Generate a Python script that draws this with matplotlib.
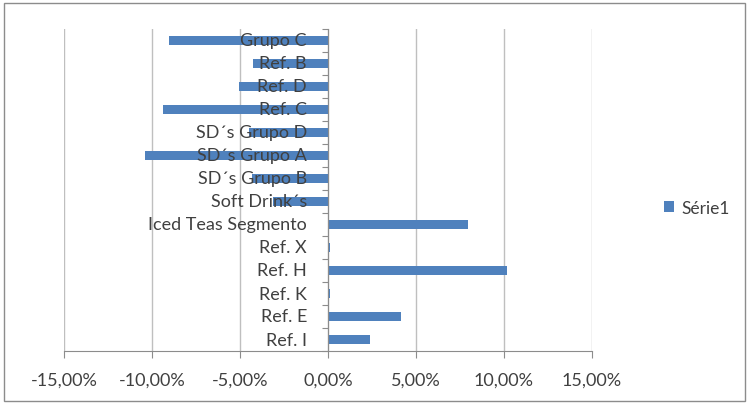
import matplotlib
matplotlib.use('Agg')
import matplotlib.pyplot as plt
from matplotlib.patches import Rectangle
import numpy as np

# categories from bottom to top, values in %
categories = ['Ref. I', 'Ref. E', 'Ref. K', 'Ref. H', 'Ref. X',
              'Iced Teas Segmento', 'Soft Drink´s', 'SD´s Grupo B',
              'SD´s Grupo A', 'SD´s Grupo D', 'Ref. C', 'Ref. D',
              'Ref. B', 'Grupo C']
values = [2.36, 4.15, 0.1, 10.17, 0.1,
          7.95, -3.1, -4.3,
          -10.38, -4.5, -9.38, -5.04,
          -4.26, -9.06]
xticks = [-15, -10, -5, 0, 5, 10, 15]
xtick_labels = ['-15,00%', '-10,00%', '-5,00%', '0,00%', '5,00%', '10,00%', '15,00%']

plt.rcParams['font.family'] = ['Lato', 'DejaVu Sans']
txt_color = '#404040'

fig = plt.figure(figsize=(7.49, 4.06), dpi=100)
ax = fig.add_axes([64 / 749, 1 - 352 / 406, (592 - 64) / 749, (352 - 30) / 406])

pos = list(range(len(categories)))
ax.barh(pos, values, height=0.36, color='#4F81BD', label='Série1', zorder=2)

ax.set_xlim(-15, 15)
ax.set_ylim(-0.5, len(categories) - 0.5)
ax.set_xticks(xticks)
ax.set_xticklabels(xtick_labels, fontsize=13, color=txt_color)
ax.set_yticks(np.arange(len(categories) + 1) - 0.5)
ax.set_yticklabels([])
ax.grid(axis='x', color='#bfbfbf', linewidth=1, zorder=0)
ax.set_axisbelow(True)

# category labels sit left of the zero axis, drawn over the bars
for p, name in zip(pos, categories):
    ax.text(-1.2, p, name, ha='right', va='center', fontsize=13,
            color=txt_color, zorder=4)

for s in ['top', 'right']:
    ax.spines[s].set_visible(False)
ax.spines['left'].set_position(('data', 0))
ax.spines['left'].set_color('#8c8c8c')
ax.spines['bottom'].set_color('#8c8c8c')
ax.tick_params(axis='y', length=4, color='#8c8c8c')
ax.tick_params(axis='x', length=5, color='#8c8c8c', pad=10)

ax.legend(loc='center left', bbox_to_anchor=(648 / 749, 1 - 209 / 406),
          bbox_transform=fig.transFigure, frameon=False, fontsize=12.5,
          handlelength=0.6, handleheight=0.6, handletextpad=0.4,
          labelcolor=txt_color)

fig.patches.append(Rectangle((4 / 749, 4 / 406), 741 / 749, 398 / 406,
                             transform=fig.transFigure, fill=False,
                             edgecolor='#8c8c8c', linewidth=1))

plt.savefig('out.png', dpi=100)
